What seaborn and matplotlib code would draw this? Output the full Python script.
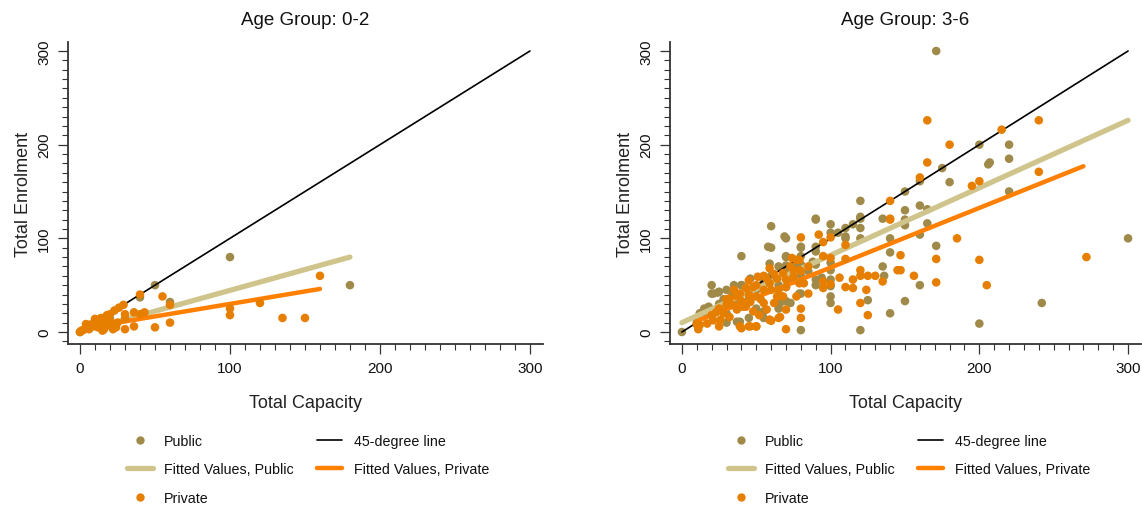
import numpy as np
import pandas as pd
import matplotlib
matplotlib.use("Agg")
import matplotlib.pyplot as plt
from matplotlib import font_manager
from matplotlib.ticker import MultipleLocator
from matplotlib.lines import Line2D
import seaborn as sns

# ---------------- data ----------------
titles = ["Age Group: 0-2", "Age Group: 3-6"]

pub02_cap = [0, 40, 50, 60, 100, 180, 10, 20]
pub02_enr = [0, 37, 50, 32, 80, 50, 10, 14]

priv02_cap = [0, 2, 4, 5, 6, 7, 8, 10, 11, 12, 12, 14, 15, 15, 16, 17, 18, 20, 20, 20,
              21, 22, 23, 24, 25, 26, 29, 30, 30, 30, 36, 36, 40, 40, 43, 50, 55, 60, 60,
              100, 100, 120, 135, 150, 160]
priv02_enr = [0, 2, 8.5, 5, 3, 8, 6, 14, 10, 5, 12, 15, 10, 1.5, 3, 14, 18, 19, 12, 7,
              7, 3, 23, 5, 10, 26, 29, 19, 3, 14, 21, 6, 40, 19, 21, 5, 38, 29, 10,
              25, 18, 31, 15, 15, 60]

pub36_cap = [0, 300, 200, 242, 120, 80, 140, 150, 200, 220, 220, 206, 207, 175, 180, 160,
             150, 160, 165, 150, 220, 160, 165, 150, 140, 140, 135, 120, 120, 120, 120, 115,
             110, 110, 105, 100, 100, 100, 100, 100, 100, 100, 90, 90, 90, 90, 80, 80, 80,
             70, 70, 70, 60, 60, 70, 70, 65, 55, 55, 40, 40, 30, 20, 20, 24, 34, 12, 18, 39,
             125, 171, 136, 160, 171, 90, 120, 110, 135, 150, 80, 80, 70, 90, 90, 100, 94,
             21, 25, 58, 69, 59, 16, 37, 59, 73, 79, 40, 46, 70, 66, 77, 10, 15, 25, 30, 35,
             45, 50, 55, 60, 65, 75, 85, 50, 45, 30, 65, 80, 88, 35, 28]
pub36_enr = [0, 100, 9, 31, 2, 2, 20, 33, 200, 200, 185, 179, 181, 175, 160, 161,
             150, 135, 131, 130, 150, 104, 116, 114, 100, 85, 121, 140, 121, 111, 100, 115,
             111, 100, 106, 115, 106, 74, 56, 49, 38, 31, 121, 91, 56, 50, 91, 81, 41,
             100, 81, 33, 113, 90, 71, 63, 25, 22, 15, 81, 50, 45, 50, 41, 42, 40, 20, 27, 11,
             34, 300, 60, 50, 92, 120, 123, 102, 70, 120, 90, 72, 80, 72, 86, 66, 58,
             41, 43, 91, 102, 73, 20, 11, 13, 31, 41, 50, 57, 48, 31, 73, 10, 25, 30, 20, 30,
             35, 45, 55, 60, 50, 55, 65, 25, 15, 10, 70, 60, 75, 50, 35]

priv36_cap = [165, 240, 215, 180, 165, 160, 240, 195, 200, 140, 140, 185, 171, 200, 272, 205,
              171, 147, 147, 156, 135, 130, 125, 120, 120, 115, 115, 110, 110, 110, 106, 105,
              124, 120, 125, 95, 95, 95, 85, 92, 95, 100, 80, 80, 80, 85, 70, 65, 60, 50, 45,
              40, 25, 11, 10, 12, 21, 28, 37, 32, 41, 46, 50, 55, 59, 64, 68, 73, 77, 59, 51,
              43, 37, 30, 26, 39, 46, 50, 59, 66, 70, 52, 64, 70, 75, 79, 82, 77, 68, 48, 39,
              32, 55, 17, 23, 34, 43, 48, 57, 62, 100, 74, 79, 80, 75, 70, 79, 100, 140, 145,
              35, 45, 55, 60, 65, 40, 50, 57, 62, 30, 25, 20, 45, 53]
priv36_enr = [226, 226, 216, 200, 181, 165, 171, 156, 161, 140, 121, 100, 78, 77, 80, 50,
              53, 82, 66, 60, 54, 60, 60, 66, 60, 56, 47, 78, 93, 48, 58, 24,
              45, 31, 18, 81, 54, 47, 70, 104, 96, 101, 101, 25, 15, 41, 3, 15, 12, 6, 6,
              4, 6, 3, 8, 7.5, 12.5, 20, 24, 16, 27, 32, 38, 45, 52, 57, 63, 70, 77, 68, 59,
              47, 38, 29, 13, 6, 6, 6, 13, 16, 24, 18, 38, 48, 59, 66, 52, 38, 38, 48, 41,
              36, 31, 9, 21, 29, 27, 22, 24, 31, 79, 79, 77, 65, 66, 56, 52, 51, 120, 66,
              45, 55, 60, 45, 45, 33, 50, 57, 62, 35, 25, 18, 40, 35]

# fitted-value lines (end points)
fit02_pub_x, fit02_pub_y = [0, 180], [0, 80]
fit02_priv_x, fit02_priv_y = [0, 160], [3.3, 46]
fit36_pub_x, fit36_pub_y = [0, 300], [10, 226]
fit36_priv_x, fit36_priv_y = [10, 270], [11.6, 177]
diag_x, diag_y = [0, 300], [0, 300]

xticks = [0, 100, 200, 300]
yticks = [0, 100, 200, 300]

# ---------------- style ----------------
sns.set_style("ticks")
names = {f.name for f in font_manager.fontManager.ttflist}
fam = "Liberation Sans Narrow" if "Liberation Sans Narrow" in names else "Liberation Sans"
narrow = fam == "Liberation Sans Narrow"
plt.rcParams["font.family"] = [fam, "DejaVu Sans"]

C_PUB = "#A08A4A"
C_PRIV = "#E67E00"
C_FPUB = "#CFC58C"
C_FPRIV = "#FF8000"

fs_title = 15.5 if narrow else 13.5
fs_label = 15.5 if narrow else 13
fs_tick = 13 if narrow else 11
fs_leg = 11 if narrow else 10.3

fig = plt.figure(figsize=(11.42, 5.06), dpi=100)
W, H = 1142, 506
ax_px = [(68, 543), (670, 1141)]
top_px, bot_px = 43, 345

datasets = [
    (pub02_cap, pub02_enr, priv02_cap, priv02_enr, fit02_pub_x, fit02_pub_y, fit02_priv_x, fit02_priv_y),
    (pub36_cap, pub36_enr, priv36_cap, priv36_enr, fit36_pub_x, fit36_pub_y, fit36_priv_x, fit36_priv_y),
]
leg_left_px = [127, 728]

for i, (pc, pe, vc, ve, fpx, fpy, fvx, fvy) in enumerate(datasets):
    l, r = ax_px[i]
    ax = fig.add_axes([l / W, 1 - bot_px / H, (r - l) / W, (bot_px - top_px) / H])
    dpub = pd.DataFrame({"cap": pc, "enr": pe})
    dpriv = pd.DataFrame({"cap": vc, "enr": ve})
    sns.scatterplot(data=dpub, x="cap", y="enr", ax=ax, color=C_PUB, s=38,
                    edgecolor="none", linewidth=0, zorder=2)
    sns.lineplot(x=diag_x, y=diag_y, ax=ax, color="black", lw=1.2, zorder=3)
    sns.lineplot(x=fpx, y=fpy, ax=ax, color=C_FPUB, lw=3.8, zorder=4)
    sns.lineplot(x=fvx, y=fvy, ax=ax, color=C_FPRIV, lw=3.2, zorder=5)
    sns.scatterplot(data=dpriv, x="cap", y="enr", ax=ax, color=C_PRIV, s=38,
                    edgecolor="none", linewidth=0, zorder=6)

    ax.set_xlim(-8, 308.7)
    ax.set_ylim(-12.8, 309.6)
    ax.set_xticks(xticks)
    ax.set_yticks(yticks)
    ax.xaxis.set_minor_locator(MultipleLocator(10))
    ax.yaxis.set_minor_locator(MultipleLocator(10))
    ax.tick_params(axis="both", which="major", direction="out", length=7, width=0.9,
                   color="#333333", labelsize=fs_tick, labelcolor="#111111", pad=5)
    ax.tick_params(axis="both", which="minor", direction="out", length=4, width=0.8,
                   color="#333333")
    for lab in ax.get_yticklabels():
        lab.set_rotation(90)
        lab.set_va("center")
    for s in ["top", "right"]:
        ax.spines[s].set_visible(False)
    for s in ["left", "bottom"]:
        ax.spines[s].set_color("#333333")
        ax.spines[s].set_linewidth(1.3)
    ax.set_xlabel("Total Capacity", fontsize=fs_label, color="#222222", labelpad=14)
    ax.set_ylabel("Total Enrolment", fontsize=fs_label, color="#222222", labelpad=4)
    ax.set_title(titles[i], fontsize=fs_title, color="#111111", pad=13)
    ax.grid(False)

    handles = [
        Line2D([], [], ls="none", marker="o", ms=6, color=C_PUB, mec="none"),
        Line2D([], [], color=C_FPUB, lw=3.8),
        Line2D([], [], ls="none", marker="o", ms=6, color=C_PRIV, mec="none"),
        Line2D([], [], color="black", lw=1.2),
        Line2D([], [], color=C_FPRIV, lw=3.2),
    ]
    labels = ["Public", "Fitted Values, Public", "Private",
              "45-degree line", "Fitted Values, Private"]
    fig.legend(handles, labels, loc="upper left",
               bbox_to_anchor=(leg_left_px[i] / W, 1 - 435 / H), ncol=2,
               frameon=False, fontsize=fs_leg, handlelength=1.8, handletextpad=0.8,
               columnspacing=1.6, labelspacing=1.0, borderpad=0, borderaxespad=0,
               labelcolor="#111111")

fig.savefig("out.png", dpi=100)
